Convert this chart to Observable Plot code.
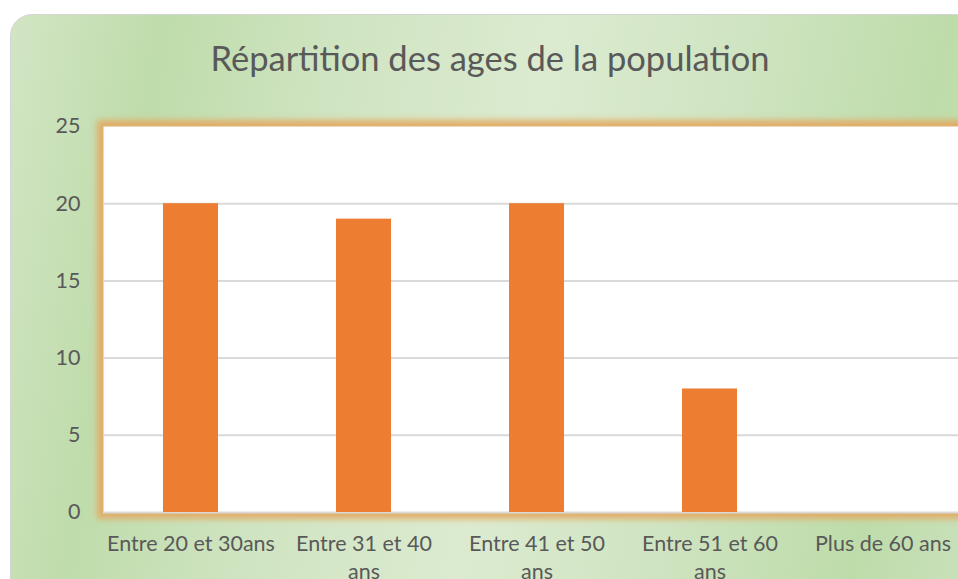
<!DOCTYPE html>
<html><head><meta charset="utf-8">
<script src="https://cdn.jsdelivr.net/npm/d3@7"></script>
<script src="https://cdn.jsdelivr.net/npm/@observablehq/plot@0.6"></script>
<style>
html,body{margin:0;padding:0;width:958px;height:579px;overflow:hidden;background:#fff;}
#card{position:absolute;left:10px;top:14px;width:990px;height:590px;box-sizing:border-box;border:1.5px solid #d4d4d4;border-radius:22px;
 background:linear-gradient(100deg,#d2e5c4 0%,#bfdcab 14%,#cfe4c1 30%,#dcebd0 50%,#cfe4c1 68%,#bedcaa 86%,#cde2bf 100%);}
#title{position:absolute;left:10px;width:960px;top:36px;text-align:center;font-family:Lato,"Open Sans",sans-serif;font-size:34.5px;color:#595959;line-height:44px;white-space:nowrap;}
#chart{position:absolute;left:0;top:0;}
#chart svg{max-width:none !important;}
</style></head>
<body>
<div id="card"></div>
<div id="title">Répartition des ages de la population</div>
<div id="chart"></div>
<script>
const categories = ["Entre 20 et 30ans", "Entre 31 et 40 ans", "Entre 41 et 50 ans", "Entre 51 et 60 ans", "Plus de 60 ans"];
const counts = [20, 19, 20, 8, 0];
const yTicks = [0, 5, 10, 15, 20, 25];
const gridTicks = [0, 5, 10, 15, 20];

const data = categories.map((c, i) => ({category: c, count: counts[i]}));
const wrap = d => d.length > 17 ? d.replace(/ (\S+)$/, "\n$1") : d;

const chart = Plot.plot({
  width: 980, height: 579,
  marginLeft: 103, marginRight: 10, marginTop: 126, marginBottom: 67,
  style: {background: "transparent", fontFamily: "Lato, 'Open Sans', sans-serif", fontSize: "21.5px", color: "#595959", overflow: "visible", maxWidth: "none"},
  x: {domain: categories, paddingInner: 0.68, paddingOuter: 0.34, label: null},
  y: {domain: [0, 25], label: null},
  marks: [
    Plot.frame({stroke: "#e3a860", strokeWidth: 13, strokeOpacity: 0.9}),
    Plot.frame({fill: "white"}),
    Plot.gridY(gridTicks, {stroke: "#d9d9d9", strokeOpacity: 1, strokeWidth: 2}),
    Plot.barY(data, {x: "category", y: "count", fill: "#ed7d31"}),
    Plot.axisY(yTicks, {tickSize: 0, tickPadding: 23, fill: "#595959", label: null}),
    Plot.axisX({tickSize: 0, tickPadding: 19, tickFormat: wrap, lineHeight: 1.3, fill: "#595959", label: null})
  ]
});
document.getElementById("chart").appendChild(chart);

// soft glow on the first frame
const svg = d3.select(chart);
const defs = svg.insert("defs", ":first-child");
defs.append("filter").attr("id", "glow").attr("x", "-10%").attr("y", "-10%").attr("width", "120%").attr("height", "120%")
  .append("feGaussianBlur").attr("stdDeviation", 3);
svg.select("[aria-label=frame]").attr("filter", "url(#glow)");
</script>
</body></html>
